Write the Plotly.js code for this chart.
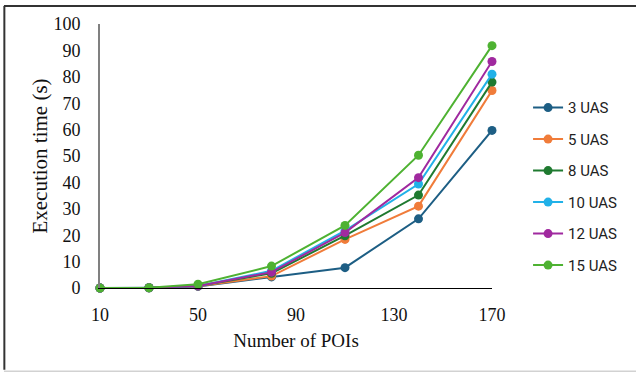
<!DOCTYPE html>
<html>
<head>
<meta charset="utf-8">
<script src="https://cdn.plot.ly/plotly-3.0.1.min.js"></script>
<style>html,body{margin:0;padding:0;background:#fff;}#chart{width:636px;height:372px;}</style>
</head>
<body>
<div id="chart"></div>
<script>
const pois = [10, 30, 50, 80, 110, 140, 170];
const seriesNames = ["3 UAS", "5 UAS", "8 UAS", "10 UAS", "12 UAS", "15 UAS"];
const uas3  = [0, 0.1, 0.6, 4.2, 7.7, 26.2, 59.7];
const uas5  = [0, 0.1, 0.7, 4.5, 18.4, 31.0, 74.8];
const uas8  = [0, 0.1, 0.8, 5.6, 19.8, 35.2, 78.0];
const uas10 = [0, 0.1, 0.8, 6.5, 21.7, 39.4, 81.0];
const uas12 = [0, 0.1, 0.8, 6.0, 21.0, 41.8, 85.8];
const uas15 = [0, 0.1, 1.4, 8.3, 23.7, 50.3, 91.8];
const allSeries = [uas3, uas5, uas8, uas10, uas12, uas15];
const colors = ["#1d5e84", "#f07c3a", "#1f7a30", "#21b1e8", "#a0299f", "#4eb232"];

const traces = allSeries.map((ys, i) => ({
  type: "scatter",
  mode: "lines+markers",
  x: pois,
  y: ys,
  name: seriesNames[i],
  legendgroup: "g" + i,
  line: {color: colors[i], width: 2},
  marker: {color: colors[i], size: 9},
  cliponaxis: false
}));

const serif = "Liberation Serif, Times New Roman, serif";
const layout = {
  width: 636, height: 372,
  margin: {l: 100, r: 144, t: 24, b: 84},
  paper_bgcolor: "#fff", plot_bgcolor: "#fff",
  showlegend: true,
  legend: {
    x: 1.092, y: 0.745, xanchor: "left", yanchor: "top",
    font: {family: "Roboto, Liberation Sans, sans-serif", size: 15, color: "#222"},
    tracegroupgap: 9, itemwidth: 30, bgcolor: "rgba(0,0,0,0)"
  },
  xaxis: {
    range: [10, 170], tick0: 10, dtick: 40,
    showgrid: false, zeroline: false,
    showline: true, linecolor: "#000", linewidth: 1,
    ticks: "", ticklabelstandoff: 10,
    tickfont: {family: serif, size: 18, color: "#111"},
    title: {text: "Number of POIs", font: {family: serif, size: 19, color: "#111"}, standoff: 10}
  },
  yaxis: {
    range: [0, 100], dtick: 10,
    showgrid: false, zeroline: false,
    showline: true, linecolor: "#808080", linewidth: 2,
    ticks: "", ticklabelstandoff: 14,
    tickfont: {family: serif, size: 18, color: "#111"},
    title: {text: "Execution time (s)", font: {family: serif, size: 21, color: "#111"}, standoff: 0}
  },
  shapes: [
    {type: "line", xref: "paper", yref: "paper", x0: -0.245, x1: 1.38, y0: 1.068, y1: 1.068, line: {color: "#333", width: 2}},
    {type: "line", xref: "paper", yref: "paper", x0: -0.244, x1: -0.244, y0: 1.068, y1: -0.31, line: {color: "#333", width: 2}},
    {type: "line", xref: "paper", yref: "paper", x0: -0.245, x1: 1.38, y0: -0.315, y1: -0.315, line: {color: "#bbb", width: 1}}
  ]
};

Plotly.newPlot("chart", traces, layout, {displayModeBar: false, staticPlot: true});
</script>
</body>
</html>
